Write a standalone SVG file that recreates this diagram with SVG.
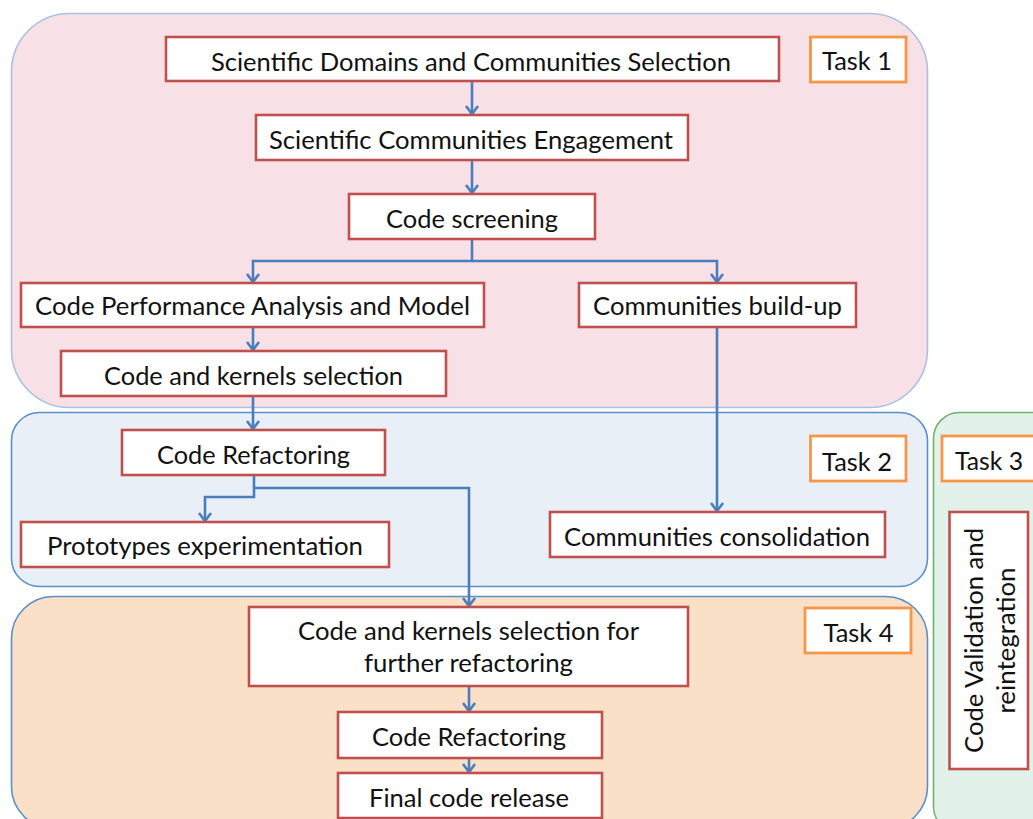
<svg xmlns="http://www.w3.org/2000/svg" width="1033" height="819" viewBox="0 0 1033 819">
  <style>
    .lbl { font-family: Lato, "Liberation Sans", sans-serif; font-size: 25px; fill: #111111; text-anchor: middle; }
    .node { fill: #ffffff; stroke: #c0504d; stroke-width: 2.6; }
    .task { fill: #ffffff; stroke: #f79646; stroke-width: 2.8; }
    .flow { fill: none; stroke: #4a7ebb; stroke-width: 2.6; marker-end: url(#arr); }
  </style>
  <defs>
    <marker id="arr" viewBox="-10 -8 12 16" markerWidth="12" markerHeight="16" refX="0" refY="0" orient="auto" markerUnits="userSpaceOnUse">
      <path d="M-8,-6 L0,0 L-8,6" fill="none" stroke="#4a7ebb" stroke-width="2.6" stroke-linejoin="miter"/>
    </marker>
  </defs>

  <!-- work-package areas -->
  <g id="area-task1">
    <rect x="11.5" y="13.5" width="916" height="394" rx="58" ry="58" fill="#f7e1e6" stroke="#a9c1e0" stroke-width="1.6"/>
  </g>
  <g id="area-task2">
    <rect x="11.5" y="412.5" width="916" height="174" rx="28" ry="28" fill="#e9eff7" stroke="#5b8fcb" stroke-width="1.6"/>
  </g>
  <g id="area-task4">
    <rect x="11.5" y="596.5" width="916" height="232" rx="42" ry="42" fill="#fbe0c8" stroke="#5b8fcb" stroke-width="1.6"/>
  </g>
  <g id="area-task3">
    <rect x="933.5" y="412.5" width="130" height="420" rx="26" ry="26" fill="#e3f1eb" stroke="#6db46d" stroke-width="1.6"/>
  </g>

  <!-- connectors -->
  <g id="connectors">
    <path class="flow" d="M472,81 V114"/>
    <path class="flow" d="M472,160 V193"/>
    <path class="flow" d="M472,239 V261 H253 V282"/>
    <path class="flow" d="M472,261 H717 V282"/>
    <path class="flow" d="M253,327 V350"/>
    <path class="flow" d="M253,396 V429"/>
    <path class="flow" d="M717,327 V511"/>
    <path class="flow" d="M254,475 V497 H205 V521"/>
    <path class="flow" d="M254,488 H469 V606"/>
    <path class="flow" d="M469,686 V711"/>
    <path class="flow" d="M469,758 V772"/>
  </g>

  <!-- Task 1 -->
  <g id="n-domains">
    <rect class="node" x="166" y="37" width="613" height="44"/>
    <text class="lbl" x="471" y="71" textLength="520" lengthAdjust="spacingAndGlyphs">Scientific Domains and Communities Selection</text>
  </g>
  <g id="n-engagement">
    <rect class="node" x="256" y="115" width="432" height="45"/>
    <text class="lbl" x="471" y="149" textLength="404" lengthAdjust="spacingAndGlyphs">Scientific Communities Engagement</text>
  </g>
  <g id="n-screening">
    <rect class="node" x="349" y="194" width="246" height="45"/>
    <text class="lbl" x="472" y="228" textLength="172" lengthAdjust="spacingAndGlyphs">Code screening</text>
  </g>
  <g id="n-performance">
    <rect class="node" x="21" y="283" width="463" height="44"/>
    <text class="lbl" x="252.5" y="315" textLength="435" lengthAdjust="spacingAndGlyphs">Code Performance Analysis and Model</text>
  </g>
  <g id="n-buildup">
    <rect class="node" x="579" y="283" width="277" height="44"/>
    <text class="lbl" x="717.5" y="315" textLength="249" lengthAdjust="spacingAndGlyphs">Communities build-up</text>
  </g>
  <g id="n-selection">
    <rect class="node" x="61" y="351" width="385" height="45"/>
    <text class="lbl" x="253.5" y="385" textLength="299" lengthAdjust="spacingAndGlyphs">Code and kernels selection</text>
  </g>
  <g id="t-task1">
    <rect class="task" x="810.5" y="37" width="95.5" height="45"/>
    <text class="lbl" x="857" y="70" textLength="70" lengthAdjust="spacingAndGlyphs">Task 1</text>
  </g>

  <!-- Task 2 -->
  <g id="n-refactoring">
    <rect class="node" x="122" y="430" width="263" height="45"/>
    <text class="lbl" x="253.5" y="464" textLength="193" lengthAdjust="spacingAndGlyphs">Code Refactoring</text>
  </g>
  <g id="n-prototypes">
    <rect class="node" x="21" y="522" width="368" height="45"/>
    <text class="lbl" x="205" y="555" textLength="316" lengthAdjust="spacingAndGlyphs">Prototypes experimentation</text>
  </g>
  <g id="n-consolidation">
    <rect class="node" x="550" y="512" width="335" height="45"/>
    <text class="lbl" x="717" y="546" textLength="306" lengthAdjust="spacingAndGlyphs">Communities consolidation</text>
  </g>
  <g id="t-task2">
    <rect class="task" x="810.5" y="436" width="95.5" height="45"/>
    <text class="lbl" x="857" y="471" textLength="70" lengthAdjust="spacingAndGlyphs">Task 2</text>
  </g>

  <!-- Task 4 -->
  <g id="n-further">
    <rect class="node" x="249" y="607" width="439" height="79"/>
    <text class="lbl" x="468.5" y="640" textLength="341" lengthAdjust="spacingAndGlyphs">Code and kernels selection for</text>
    <text class="lbl" x="468.5" y="672" textLength="209" lengthAdjust="spacingAndGlyphs">further refactoring</text>
  </g>
  <g id="n-refactoring2">
    <rect class="node" x="338" y="712" width="264" height="46"/>
    <text class="lbl" x="469" y="746" textLength="194" lengthAdjust="spacingAndGlyphs">Code Refactoring</text>
  </g>
  <g id="n-release">
    <rect class="node" x="338" y="773" width="264" height="45"/>
    <text class="lbl" x="469" y="807" textLength="200" lengthAdjust="spacingAndGlyphs">Final code release</text>
  </g>
  <g id="t-task4">
    <rect class="task" x="805" y="608" width="106" height="45"/>
    <text class="lbl" x="858.5" y="642" textLength="70" lengthAdjust="spacingAndGlyphs">Task 4</text>
  </g>

  <!-- Task 3 -->
  <g id="t-task3">
    <rect class="task" x="942" y="436" width="100" height="45"/>
    <text class="lbl" x="989" y="470" textLength="68" lengthAdjust="spacingAndGlyphs">Task 3</text>
  </g>
  <g id="n-validation">
    <rect class="node" x="949.5" y="512" width="78.5" height="257"/>
    <g transform="translate(983,640.5) rotate(-90)">
      <text class="lbl" x="0" y="0" textLength="225" lengthAdjust="spacingAndGlyphs">Code Validation and</text>
      <text class="lbl" x="0" y="32" textLength="146" lengthAdjust="spacingAndGlyphs">reintegration</text>
    </g>
  </g>
</svg>
